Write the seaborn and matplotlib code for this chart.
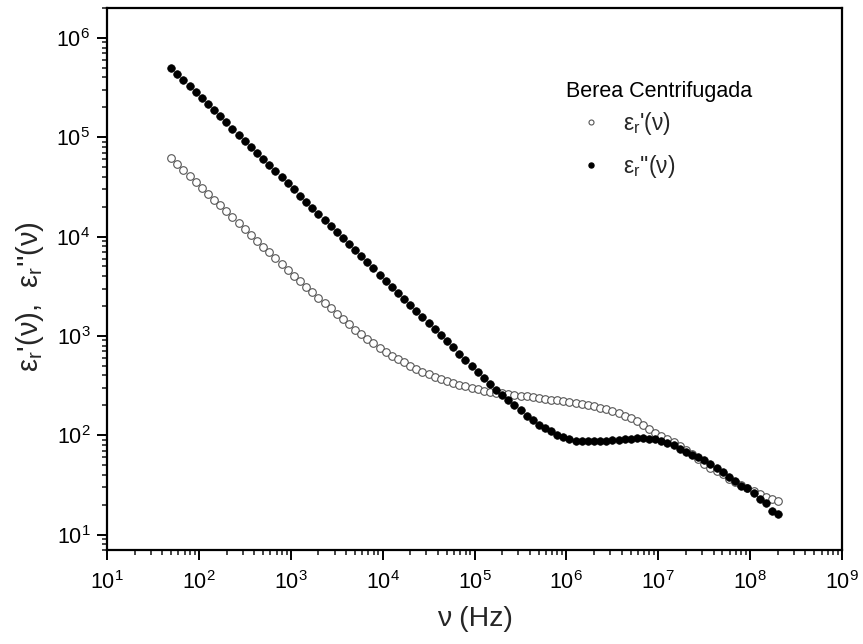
import numpy as np
import pandas as pd
import matplotlib
matplotlib.use("Agg")
import matplotlib.pyplot as plt
from matplotlib.lines import Line2D
from matplotlib.ticker import LogLocator, NullFormatter, FixedLocator, LogFormatterSciNotation
import seaborn as sns

# ---- data ----
freq_hz = [
    50.0, 58.3, 68.0, 79.3, 92.4, 108, 126, 147, 171, 199,
    232, 271, 316, 368, 429, 501, 584, 681, 794, 925,
    1080, 1260, 1470, 1710, 1990, 2330, 2710, 3160, 3690, 4300,
    5010, 5850, 6810, 7950, 9270, 10800, 12600, 14700, 17100, 20000,
    23300, 27100, 31700, 36900, 43000, 50200, 58500, 68200, 79600, 92800,
    1.08e5, 1.26e5, 1.47e5, 1.71e5, 2.00e5, 2.33e5, 2.72e5, 3.17e5, 3.69e5, 4.31e5,
    5.02e5, 5.86e5, 6.83e5, 7.96e5, 9.29e5, 1.08e6, 1.26e6, 1.47e6, 1.72e6, 2.00e6,
    2.33e6, 2.72e6, 3.17e6, 3.70e6, 4.31e6, 5.03e6, 5.86e6, 6.84e6, 7.97e6, 9.30e6,
    1.08e7, 1.26e7, 1.47e7, 1.72e7, 2.00e7, 2.34e7, 2.72e7, 3.18e7, 3.70e7, 4.32e7,
    5.04e7, 5.87e7, 6.85e7, 7.98e7, 9.31e7, 1.09e8, 1.27e8, 1.48e8, 1.72e8, 2.01e8,
]
eps_real = [
    61700, 53700, 46800, 40700, 35500, 31000, 27000, 23600, 20600, 17900,
    15600, 13600, 11900, 10400, 9080, 7930, 6920, 6050, 5280, 4620,
    4050, 3560, 3130, 2750, 2430, 2140, 1890, 1670, 1480, 1310,
    1160, 1040, 935, 843, 759, 684, 631, 583, 541, 501,
    465, 434, 410, 388, 368, 349, 332, 321, 310, 300,
    290, 280, 273, 269, 264, 259, 255, 251, 247, 242,
    238, 233, 229, 225, 221, 217, 212, 207, 202, 196,
    190, 183, 175, 167, 157, 148, 138, 127, 116, 106,
    97.7, 91.2, 86.1, 78.5, 70.8, 64.3, 57.8, 51.9, 47.3, 43.7,
    40.3, 36.7, 33.9, 31.3, 29.2, 27.2, 25.4, 24.0, 22.6, 21.6,
]
eps_imag = [
    501000, 435000, 378000, 328000, 285000, 248000, 215000, 187000, 162000, 141000,
    122000, 106000, 92300, 80200, 69700, 60500, 52500, 45600, 39600, 34400,
    29900, 25900, 22500, 19600, 17000, 14800, 12800, 11100, 9680, 8400,
    7300, 6340, 5500, 4780, 4150, 3610, 3130, 2720, 2360, 2050,
    1780, 1550, 1340, 1170, 1010, 881, 765, 664, 577, 501,
    435, 378, 328, 288, 257, 229, 204, 180, 158, 141,
    127, 117, 110, 101, 95.5, 91.2, 88.1, 87.1, 87.1, 87.1,
    87.5, 88.1, 89.1, 90.2, 91.2, 92.3, 93.3, 93.3, 92.3, 91.2,
    88.1, 84.1, 79.4, 73.3, 68.4, 63.8, 60.3, 56.2, 51.9, 46.8,
    42.2, 38.0, 34.7, 30.9, 29.2, 26.3, 22.9, 20.9, 17.2, 16.2,
]
x_ticks = [1e1, 1e2, 1e3, 1e4, 1e5, 1e6, 1e7, 1e8, 1e9]
y_ticks = [1e1, 1e2, 1e3, 1e4, 1e5, 1e6]
legend_title = "Berea Centrifugada"
label_real = "ε$_\\mathregular{r}$'(ν)"
label_imag = "ε$_\\mathregular{r}$''(ν)"
x_label = "ν (Hz)"
y_label = "ε$_\\mathregular{r}$'(ν),  ε$_\\mathregular{r}$''(ν)"

df = pd.DataFrame({"freq": freq_hz, "real": eps_real, "imag": eps_imag})

sns.set_style("ticks")
plt.rcParams["font.family"] = ["Liberation Sans", "DejaVu Sans"]
plt.rcParams["mathtext.default"] = "regular"

fig = plt.figure(figsize=(8.63, 6.44), dpi=100)
ax = fig.add_axes([107 / 863, 1 - 550 / 644, (842 - 107) / 863, (550 - 8) / 644])

sns.scatterplot(data=df, x="freq", y="real", ax=ax, marker="o", s=30,
                facecolors="white", edgecolor="#555555", linewidth=0.8, zorder=3)
sns.scatterplot(data=df, x="freq", y="imag", ax=ax, marker="o", s=30,
                color="black", edgecolor="black", linewidth=0.5, zorder=4)

ax.set_xscale("log")
ax.set_yscale("log")
ax.set_xlim(10, 1e9)
ax.set_ylim(7, 2e6)

ax.xaxis.set_major_locator(FixedLocator(x_ticks))
ax.yaxis.set_major_locator(FixedLocator(y_ticks))
ax.xaxis.set_major_formatter(LogFormatterSciNotation())
ax.yaxis.set_major_formatter(LogFormatterSciNotation())
ax.xaxis.set_minor_locator(LogLocator(base=10, subs=np.arange(2, 10), numticks=100))
ax.yaxis.set_minor_locator(LogLocator(base=10, subs=np.arange(2, 10), numticks=100))
ax.xaxis.set_minor_formatter(NullFormatter())
ax.yaxis.set_minor_formatter(NullFormatter())

for sp in ax.spines.values():
    sp.set_linewidth(1.6)
    sp.set_color("black")
ax.tick_params(which="major", direction="out", length=7, width=1.4, labelsize=15.5,
               top=False, right=False, colors="black")
ax.tick_params(which="minor", direction="out", length=3.5, width=1.2,
               top=False, right=False)
ax.tick_params(axis="x", which="major", pad=8)
ax.tick_params(axis="y", which="major", pad=5)

ax.set_xlabel(x_label, fontsize=20.5, labelpad=9)
ax.set_ylabel(y_label, fontsize=21)
ax.yaxis.set_label_coords(-0.083, 0.467)

handles = [
    Line2D([], [], linestyle="none", marker="o", markersize=3.6,
           markerfacecolor="white", markeredgecolor="#555555", markeredgewidth=0.8),
    Line2D([], [], linestyle="none", marker="o", markersize=3.6,
           markerfacecolor="black", markeredgecolor="black"),
]
leg = ax.legend(handles, [label_real, label_imag],
                loc="upper left", bbox_to_anchor=(566 / 863, 1 - 110 / 644),
                bbox_transform=fig.transFigure, frameon=False, fontsize=16.5,
                handlelength=2.2, handletextpad=0.3, labelspacing=0.68,
                borderpad=0, borderaxespad=0)
fig.text(566 / 863, 1 - 92 / 644, legend_title, fontsize=15.5,
         ha="left", va="center", color="black")

fig.savefig("out.png", dpi=100)
